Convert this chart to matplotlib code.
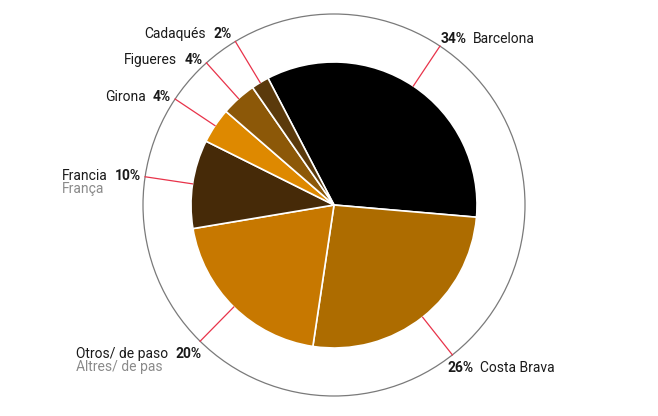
"""Pie chart of visitor origin with leader-line labels."""

import matplotlib.pyplot as plt
import numpy as np
from matplotlib.patches import Circle

plt.rcParams["font.family"] = ["Roboto", "DejaVu Sans"]

names = ["Barcelona", "Costa Brava", "Otros/ de paso", "Francia", "Girona", "Figueres", "Cadaqués"]
names_ca = ["", "", "Altres/ de pas", "França", "", "", ""]
shares = [34, 26, 20, 10, 4, 4, 2]
colors = ["#000000", "#ad6c00", "#c77800", "#462a08", "#de8900", "#8c5808", "#5b3a0c"]

W, H = 658, 416
cx, cy = 334, 211
r_pie, r_out = 143, 191

fig = plt.figure(figsize=(W / 100, H / 100), dpi=100)
ax = fig.add_axes([0, 0, 1, 1])

wedges, _ = ax.pie(shares, colors=colors, startangle=117.5, counterclock=False,
                   radius=r_pie, center=(cx, cy), frame=True,
                   wedgeprops=dict(edgecolor="white", linewidth=1.2))
ax.set_xlim(0, W)
ax.set_ylim(0, H)
ax.set_aspect("equal")
ax.axis("off")

ax.add_patch(Circle((cx, cy), r_out, fill=False, edgecolor="#7a7a7a", lw=0.9))

fs = 10
for w, name, ca, pct in zip(wedges, names, names_ca, shares):
    ang = np.deg2rad((w.theta1 + w.theta2) / 2)
    c, s = np.cos(ang), np.sin(ang)
    ax.plot([cx + r_pie * c, cx + r_out * c], [cy + r_pie * s, cy + r_out * s],
            color="#e8334a", lw=0.9)
    px, py = cx + r_out * c, cy + r_out * s
    if s > 0.8:
        va, dy = "bottom", 0
    elif s < -0.3:
        va, dy = "top", -6
    else:
        va, dy = "center", round(4 * s)
    pct_txt = f"{pct}%"
    if c > 0:
        dx = 1 if s > 0 else -5
        t = ax.annotate(pct_txt, (px, py), xytext=(dx, dy), textcoords="offset pixels",
                        ha="left", va=va, fontsize=fs, fontweight="bold", color="#1a1a1a")
        ax.annotate(name, (1, 0), xycoords=t, xytext=(6, 0), textcoords="offset pixels",
                    ha="left", va="bottom", fontsize=fs, color="#1a1a1a")
    else:
        dx = -4 if s > -0.3 else 1
        t = ax.annotate(pct_txt, (px, py), xytext=(dx, dy), textcoords="offset pixels",
                        ha="right", va=va, fontsize=fs, fontweight="bold", color="#1a1a1a")
        n = ax.annotate(name, (0, 0), xycoords=t, xytext=(-7, 0), textcoords="offset pixels",
                        ha="right", va="bottom", fontsize=fs, color="#1a1a1a")
        if ca:
            ax.annotate(ca, (0, 0), xycoords=n, xytext=(0, 1), textcoords="offset pixels",
                        ha="left", va="top", fontsize=fs, color="#8a8a8a")

fig.savefig("out.png", dpi=100)
plt.close(fig)
